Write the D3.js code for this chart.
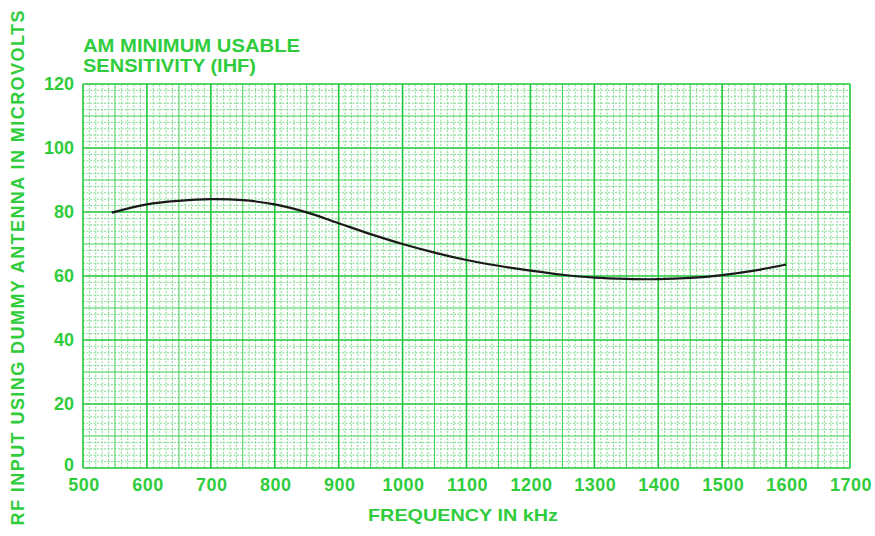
<!DOCTYPE html>
<html>
<head>
<meta charset="utf-8">
<script src="https://cdn.jsdelivr.net/npm/d3@7"></script>
<style>
  body { margin: 0; background: #fff; }
  text { font-family: 'Liberation Sans', Arial, sans-serif; font-weight: bold; fill: #2fcc3c; }
</style>
</head>
<body>
<script>
// Curve (kHz, microvolts)
var freqs = [545, 600, 650, 700, 750, 800, 850, 900, 950, 1000, 1050, 1100,
  1150, 1200, 1250, 1300, 1350, 1400, 1450, 1500, 1550, 1600];
var microvolts = [79.8, 82.4, 83.5, 84, 83.7, 82.4, 79.9, 76.5, 73.1, 70, 67.3, 65,
  63.2, 61.7, 60.4, 59.5, 59.1, 59, 59.4, 60.3, 61.7, 63.6];

var xTicks = [500, 600, 700, 800, 900, 1000, 1100, 1200, 1300, 1400, 1500, 1600, 1700];
var yTicks = [0, 20, 40, 60, 80, 100, 120];
var titleLines = ['AM MINIMUM USABLE', 'SENSITIVITY (IHF)'];

var width = 875,
  height = 536;

var svg = d3.select('body')
  .append('svg')
  .attr('width', width)
  .attr('height', height);

var x = d3.scaleLinear().domain([500, 1700]).range([83, 850]);
var y = d3.scaleLinear().domain([0, 120]).range([468, 84]);

var grid = svg.append('g');

// minor dotted lines: every 10 kHz and every 2 microvolts
grid.selectAll('.vminor')
  .data(d3.range(510, 1700, 10).filter(function(d) { return d % 50 != 0; }))
  .enter().append('line')
  .attr('x1', x).attr('x2', x)
  .attr('y1', y(0)).attr('y2', y(120))
  .attr('stroke', '#72d680').attr('stroke-width', 0.9)
  .attr('stroke-dasharray', '2,1.5');

grid.selectAll('.hminor')
  .data(d3.range(2, 120, 2).filter(function(d) { return d % 10 != 0; }))
  .enter().append('line')
  .attr('y1', y).attr('y2', y)
  .attr('x1', x(500)).attr('x2', x(1700))
  .attr('stroke', '#72d680').attr('stroke-width', 0.9)
  .attr('stroke-dasharray', '2,1.5');

// medium lines at the halfway marks
grid.selectAll('.vmid')
  .data(d3.range(550, 1700, 100))
  .enter().append('line')
  .attr('x1', x).attr('x2', x)
  .attr('y1', y(0)).attr('y2', y(120))
  .attr('stroke', '#3ccf52').attr('stroke-width', 1);

grid.selectAll('.hmid')
  .data(d3.range(10, 120, 20))
  .enter().append('line')
  .attr('y1', y).attr('y2', y)
  .attr('x1', x(500)).attr('x2', x(1700))
  .attr('stroke', '#3ccf52').attr('stroke-width', 1);

// major lines
grid.selectAll('.vmajor')
  .data(xTicks)
  .enter().append('line')
  .attr('x1', x).attr('x2', x)
  .attr('y1', y(0)).attr('y2', y(120))
  .attr('stroke', '#1fc73a').attr('stroke-width', 1.6);

grid.selectAll('.hmajor')
  .data(yTicks)
  .enter().append('line')
  .attr('y1', y).attr('y2', y)
  .attr('x1', x(500)).attr('x2', x(1700))
  .attr('stroke', '#1fc73a').attr('stroke-width', 1.6);

// tick labels
svg.selectAll('.xlab')
  .data(xTicks)
  .enter().append('text')
  .attr('x', function(d) { return x(d) + 1; })
  .attr('y', 491)
  .attr('text-anchor', 'middle')
  .attr('font-size', 18)
  .attr('letter-spacing', 0.5)
  .text(function(d) { return d; });

svg.selectAll('.ylab')
  .data(yTicks)
  .enter().append('text')
  .attr('x', 74)
  .attr('y', function(d) { return d == 0 ? y(d) + 3 : y(d) + 6; })
  .attr('text-anchor', 'end')
  .attr('font-size', 18)
  .text(function(d) { return d; });

// titles
svg.selectAll('.title')
  .data(titleLines)
  .enter().append('text')
  .attr('x', 83)
  .attr('y', function(d, i) { return 52 + i * 20; })
  .attr('font-size', 18)
  .attr('textLength', function(d, i) { return i == 0 ? 217 : 173; })
  .attr('lengthAdjust', 'spacingAndGlyphs')
  .text(function(d) { return d; });

svg.append('text')
  .attr('x', 368)
  .attr('y', 521)
  .attr('font-size', 17)
  .attr('textLength', 190)
  .attr('lengthAdjust', 'spacingAndGlyphs')
  .text('FREQUENCY IN kHz');

svg.append('text')
  .attr('transform', 'translate(24,268) rotate(-90)')
  .attr('text-anchor', 'middle')
  .attr('font-size', 18)
  .attr('textLength', 515)
  .attr('lengthAdjust', 'spacing')
  .text('RF INPUT USING DUMMY ANTENNA IN MICROVOLTS');

// the curve
var line = d3.line()
  .x(function(d) { return x(d[0]); })
  .y(function(d) { return y(d[1]); })
  .curve(d3.curveCatmullRom);

svg.append('path')
  .datum(d3.zip(freqs, microvolts))
  .attr('fill', 'none')
  .attr('stroke', '#1a1a1a')
  .attr('stroke-width', 2.2)
  .attr('d', line);
</script>
</body>
</html>
